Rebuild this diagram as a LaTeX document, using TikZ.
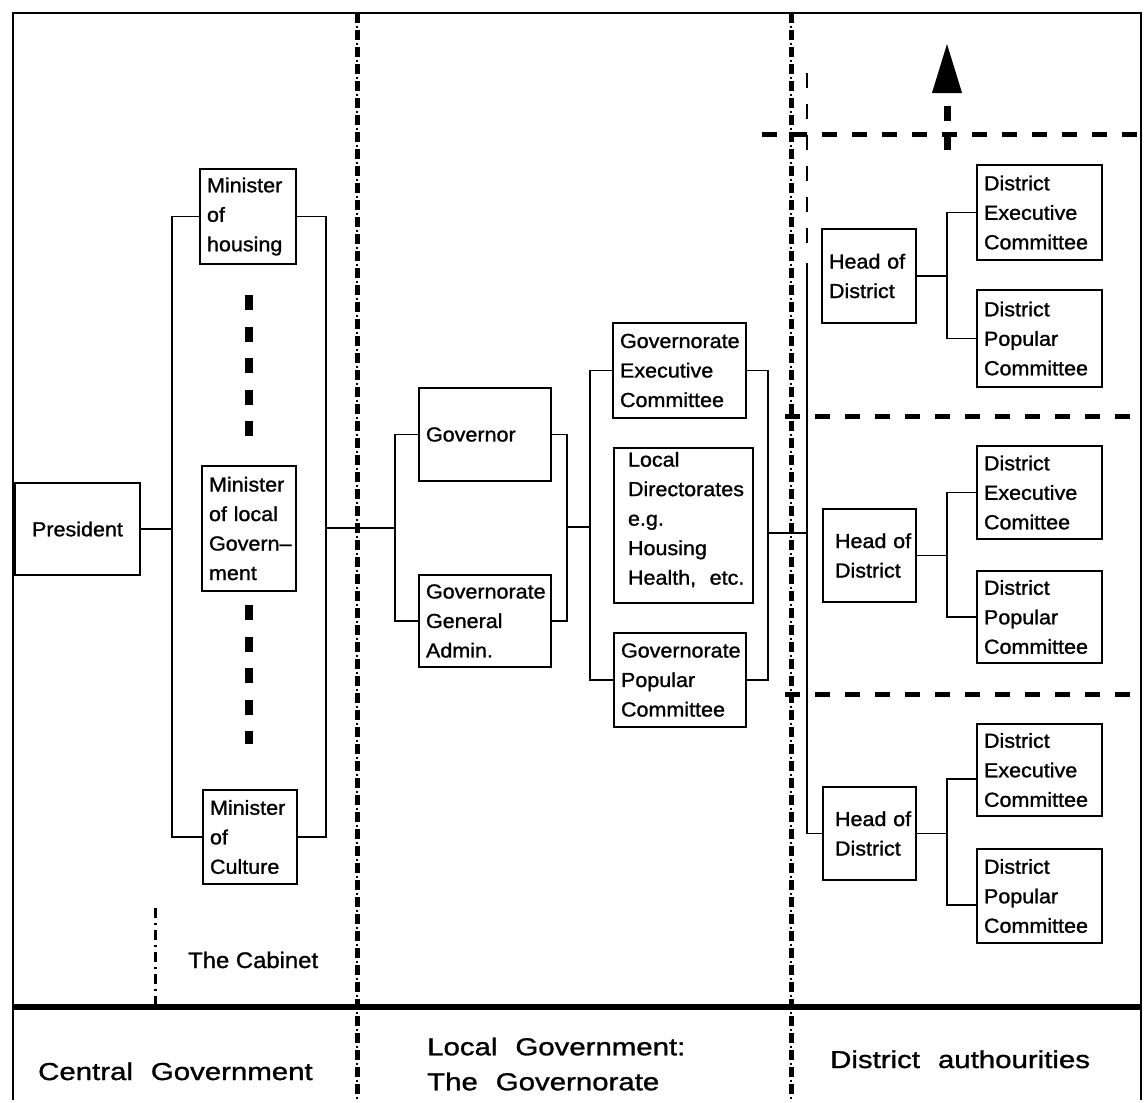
\documentclass[tikz,border=0pt]{standalone}
\usepackage{fontspec}
\setmainfont{Liberation Sans}[FakeStretch=1.06, FakeBold=1.2]
\newfontfamily\zonefont{Liberation Sans}[FakeStretch=1.2, FakeBold=1.2, WordSpace=2.2]
\usetikzlibrary{arrows.meta}

\begin{document}
\begin{tikzpicture}[x=1pt, y=-1pt,
    box/.style 2 args = {draw, line width=2.4pt, outer sep=0pt,
        inner xsep=7pt, inner ysep=0pt, align=left,
        text width=#1, minimum height=#2,
        font=\fontsize{20.3}{29.5}\selectfont},
    link/.style = {line width=1.8pt},
    divider/.style = {line width=5pt, dash pattern=on 10pt off 7pt},
    dividerdot/.style = {line width=2.5pt, dash pattern=on 2pt off 15pt, dash phase=4.5pt},
    sep/.style = {line width=5pt, dash pattern=on 15pt off 15pt},
    more/.style = {line width=8pt, dash pattern=on 15pt off 16.5pt},
    zone/.style = {inner sep=0pt, anchor=base west,
        font=\zonefont\fontsize{24.5}{35}\selectfont}]

\useasboundingbox (0,0) rectangle (1144,1103);

% Frame and level lines
\draw[line width=2.4pt] (13,1100) -- (13,13) -- (1141,13) -- (1141,1100);
\draw[line width=5.5pt] (13,1007) -- (1141,1007);
\foreach \x in {357,791} {
    \draw[divider] (\x,13) -- (\x,1100);
    \draw[dividerdot] (\x,13) -- (\x,1100);
}
\draw[line width=3pt, dash pattern=on 10pt off 5pt on 2pt off 5pt] (155,908) -- (155,1005);

% District rows
\draw[sep] (762,134) -- (1141,134);
\draw[sep] (785,416) -- (1141,416);
\draw[sep] (785,694) -- (1141,694);

% Central Government
\node[box={111pt}{92pt}, align=center] (pres) at (77.5,529) {President};
\node[box={82pt}{95pt}] (minh) at (248,216.5) {Minister\\of\\housing};
\node[box={80pt}{125pt}] (minl) at (249,528.5) {Minister\\of local\\\mbox{Govern--}\\ment};
\node[box={80pt}{94pt}] (minc) at (250,837) {Minister\\of\\Culture};
\draw[more] (249,295) -- (249,437);
\draw[more] (249,605) -- (249,744);

% The Governorate
\node[box={118pt}{93pt}] (gov) at (485,434.5) {Governor};
\node[box={118pt}{92pt}] (gga) at (485,621) {Governorate\\General\\Admin.};
\node[box={119pt}{95pt}] (gec) at (679.5,370.5) {Governorate\\Executive\\Committee};
\node[box={111pt}{155pt}, inner xsep=14pt] (ldir) at (683.5,525.5)
    {Local\\Directorates\\e.g.\\Housing\\Health,~~etc.\\[-15pt]\mbox{}};
\node[box={118pt}{94pt}] (gpc) at (680,680) {Governorate\\Popular\\Committee};

% Districts
\node[box={80pt}{94pt}] (hd1) at (869,276) {Head of\\District};
\node[box={111pt}{95pt}] (dec1) at (1039.5,212.5) {District\\Executive\\Committee};
\node[box={111pt}{97pt}] (dpc1) at (1039.5,338.5) {District\\Popular\\Committee};
\node[box={69pt}{93pt}, inner xsep=12pt] (hd2) at (869.5,555.5) {\mbox{Head of}\\District};
\node[box={111pt}{93pt}] (dec2) at (1039.5,492.5) {District\\Executive\\Comittee};
\node[box={111pt}{92pt}] (dpc2) at (1039.5,617) {District\\Popular\\Committee};
\node[box={69pt}{93pt}, inner xsep=12pt] (hd3) at (869.5,833.5) {\mbox{Head of}\\District};
\node[box={111pt}{92pt}] (dec3) at (1039.5,770) {District\\Executive\\Committee};
\node[box={111pt}{94pt}] (dpc3) at (1039.5,896) {District\\Popular\\Committee};

% Connectors
\coordinate (cabL) at (172,529);
\coordinate (cabR) at (326,528);
\coordinate (govL) at (395,528);
\coordinate (govR) at (567,527);
\coordinate (comL) at (590,527);
\coordinate (comR) at (768,533);
\coordinate (distL) at (807,533);
\coordinate (distTop) at (807,263);
\coordinate (distEnd) at (807,73);
\coordinate (distGap) at (807,243);
\draw[link] (pres) -- (cabL);
\draw[link] (minh.west) -| (cabL) |- (minc.west);
\draw[link] (minh.east) -| (cabR) |- (minc.east);
\draw[link] (cabR) -- (govL);
\draw[link] (gov.west) -| (govL) |- (gga.west);
\draw[link] (gov.east) -| (govR) |- (gga.east);
\draw[link] (govR) -- (comL);
\draw[link] (gec.west) -| (comL) |- (gpc.west);
\draw[link] (gec.east) -| (comR) |- (gpc.east);
\draw[link] (comR) -- (distL);
\draw[link] (distTop) |- (hd3.west);
\draw[link, dash pattern=on 15pt off 16pt] (distEnd) -- (distGap);
\foreach \i/\y/\d in {1/276/0, 2/555.5/0, 3/833.5/9} {
    \coordinate (hub\i) at (947,\y);
    \draw[link] (hd\i) -- (hub\i);
    \draw[link] ([yshift=-\d pt]dec\i.west) -| (hub\i) |- ([yshift=-\d pt]dpc\i.west);
}

% Upward arrow
\coordinate (arrowFoot) at (947,150);
\coordinate (arrowTip) at (947,43);
\draw[line width=7pt, dash pattern=on 15pt off 14pt,
    -{Triangle[width=28pt,length=50pt]}] (arrowFoot) -- (arrowTip);

% Labels
\node[font=\fontsize{22.5}{27}\selectfont, inner sep=0pt, anchor=base west] (cab) at (188,968) {The Cabinet};
\node[zone] (central) at (38,1080) {Central Government};
\node[zone, anchor=west, align=left] (local) at (427,1064) {Local Government:\\The Governorate};
\node[zone] (district) at (830,1068) {District authourities};

\end{tikzpicture}
\end{document}
